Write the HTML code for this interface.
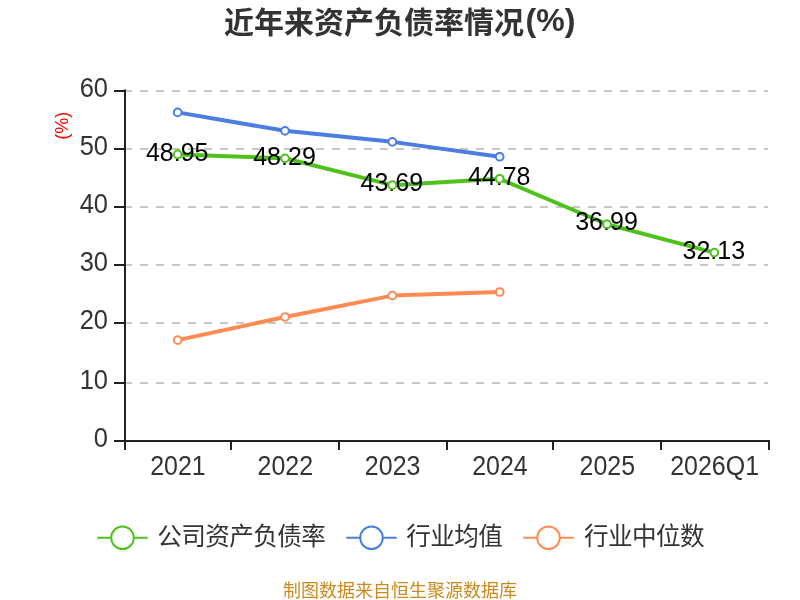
<!DOCTYPE html>
<html lang="zh"><head><meta charset="utf-8"><title>近年来资产负债率情况(%)</title>
<style>
html,body{margin:0;padding:0;background:#fff;}
body{width:800px;height:600px;overflow:hidden;}
svg{display:block;will-change:transform;}
text{font-family:"Liberation Sans","Noto Sans CJK SC",sans-serif;}
</style></head><body>
<svg width="800" height="600" viewBox="0 0 800 600">
<rect width="800" height="600" fill="#fff"/>
<text x="224" y="33" font-size="30" font-weight="bold" fill="#333">近年来资产负债率情况<tspan font-size="32" dx="1.6" dy="-1.8">(%)</tspan></text>
<line x1="124" y1="91" x2="768" y2="91" stroke="#c8c8c8" stroke-width="2" stroke-dasharray="8 8"/>
<line x1="124" y1="149" x2="768" y2="149" stroke="#c8c8c8" stroke-width="2" stroke-dasharray="8 8"/>
<line x1="124" y1="207" x2="768" y2="207" stroke="#c8c8c8" stroke-width="2" stroke-dasharray="8 8"/>
<line x1="124" y1="265" x2="768" y2="265" stroke="#c8c8c8" stroke-width="2" stroke-dasharray="8 8"/>
<line x1="124" y1="323" x2="768" y2="323" stroke="#c8c8c8" stroke-width="2" stroke-dasharray="8 8"/>
<line x1="124" y1="383" x2="768" y2="383" stroke="#c8c8c8" stroke-width="2" stroke-dasharray="8 8"/>
<line x1="125" y1="89.5" x2="125" y2="442" stroke="#212121" stroke-width="2"/>
<line x1="124" y1="441" x2="770" y2="441" stroke="#212121" stroke-width="2"/>
<line x1="114" y1="91" x2="125" y2="91" stroke="#212121" stroke-width="2"/>
<text transform="translate(108,97.0) scale(1,1.1)" text-anchor="end" font-size="25.5" fill="#333">60</text>
<line x1="114" y1="149" x2="125" y2="149" stroke="#212121" stroke-width="2"/>
<text transform="translate(108,155.0) scale(1,1.1)" text-anchor="end" font-size="25.5" fill="#333">50</text>
<line x1="114" y1="207" x2="125" y2="207" stroke="#212121" stroke-width="2"/>
<text transform="translate(108,213.0) scale(1,1.1)" text-anchor="end" font-size="25.5" fill="#333">40</text>
<line x1="114" y1="265" x2="125" y2="265" stroke="#212121" stroke-width="2"/>
<text transform="translate(108,271.0) scale(1,1.1)" text-anchor="end" font-size="25.5" fill="#333">30</text>
<line x1="114" y1="323" x2="125" y2="323" stroke="#212121" stroke-width="2"/>
<text transform="translate(108,329.0) scale(1,1.1)" text-anchor="end" font-size="25.5" fill="#333">20</text>
<line x1="114" y1="383" x2="125" y2="383" stroke="#212121" stroke-width="2"/>
<text transform="translate(108,389.0) scale(1,1.1)" text-anchor="end" font-size="25.5" fill="#333">10</text>
<line x1="114" y1="441" x2="125" y2="441" stroke="#212121" stroke-width="2"/>
<text transform="translate(108,447.0) scale(1,1.1)" text-anchor="end" font-size="25.5" fill="#333">0</text>
<line x1="125" y1="441" x2="125" y2="450" stroke="#212121" stroke-width="2"/>
<line x1="231" y1="441" x2="231" y2="450" stroke="#212121" stroke-width="2"/>
<line x1="339" y1="441" x2="339" y2="450" stroke="#212121" stroke-width="2"/>
<line x1="447" y1="441" x2="447" y2="450" stroke="#212121" stroke-width="2"/>
<line x1="553" y1="441" x2="553" y2="450" stroke="#212121" stroke-width="2"/>
<line x1="661" y1="441" x2="661" y2="450" stroke="#212121" stroke-width="2"/>
<line x1="769" y1="441" x2="769" y2="450" stroke="#212121" stroke-width="2"/>
<text transform="translate(177.97,474.6) scale(1,1.12)" text-anchor="middle" font-size="25" fill="#333">2021</text>
<text transform="translate(285.30,474.6) scale(1,1.12)" text-anchor="middle" font-size="25" fill="#333">2022</text>
<text transform="translate(392.63,474.6) scale(1,1.12)" text-anchor="middle" font-size="25" fill="#333">2023</text>
<text transform="translate(499.97,474.6) scale(1,1.12)" text-anchor="middle" font-size="25" fill="#333">2024</text>
<text transform="translate(607.30,474.6) scale(1,1.12)" text-anchor="middle" font-size="25" fill="#333">2025</text>
<text transform="translate(714.63,474.6) scale(1,1.12)" text-anchor="middle" font-size="25" fill="#333">2026Q1</text>
<text transform="translate(68.2,125.7) rotate(-90)" text-anchor="middle" font-size="18" fill="#f00">(%)</text>
<polyline points="177.67,154.46 285.00,158.31 392.33,185.14 499.67,178.78 607.00,224.22 714.33,252.57" fill="none" stroke="#4ec21a" stroke-width="4" stroke-linejoin="bevel"/>
<polyline points="177.67,112.40 285.00,130.83 392.33,141.86 499.67,156.73" fill="none" stroke="#4b7ee0" stroke-width="4" stroke-linejoin="bevel"/>
<polyline points="177.67,340.13 285.00,316.98 392.33,295.62 499.67,292.01" fill="none" stroke="#ff8b52" stroke-width="4" stroke-linejoin="bevel"/>
<text x="177.17" y="160.66" text-anchor="middle" font-size="25" fill="#000">48.95</text>
<text x="284.50" y="164.51" text-anchor="middle" font-size="25" fill="#000">48.29</text>
<text x="391.83" y="191.34" text-anchor="middle" font-size="25" fill="#000">43.69</text>
<text x="499.17" y="184.98" text-anchor="middle" font-size="25" fill="#000">44.78</text>
<text x="606.50" y="230.42" text-anchor="middle" font-size="25" fill="#000">36.99</text>
<text x="713.83" y="258.77" text-anchor="middle" font-size="25" fill="#000">32.13</text>
<circle cx="177.67" cy="154.46" r="3.85" fill="#fff" stroke="#4ec21a" stroke-width="2"/>
<circle cx="285.00" cy="158.31" r="3.85" fill="#fff" stroke="#4ec21a" stroke-width="2"/>
<circle cx="392.33" cy="185.14" r="3.85" fill="#fff" stroke="#4ec21a" stroke-width="2"/>
<circle cx="499.67" cy="178.78" r="3.85" fill="#fff" stroke="#4ec21a" stroke-width="2"/>
<circle cx="607.00" cy="224.22" r="3.85" fill="#fff" stroke="#4ec21a" stroke-width="2"/>
<circle cx="714.33" cy="252.57" r="3.85" fill="#fff" stroke="#4ec21a" stroke-width="2"/>
<circle cx="177.67" cy="112.40" r="3.85" fill="#fff" stroke="#4b7ee0" stroke-width="2"/>
<circle cx="285.00" cy="130.83" r="3.85" fill="#fff" stroke="#4b7ee0" stroke-width="2"/>
<circle cx="392.33" cy="141.86" r="3.85" fill="#fff" stroke="#4b7ee0" stroke-width="2"/>
<circle cx="499.67" cy="156.73" r="3.85" fill="#fff" stroke="#4b7ee0" stroke-width="2"/>
<circle cx="177.67" cy="340.13" r="3.85" fill="#fff" stroke="#ff8b52" stroke-width="2"/>
<circle cx="285.00" cy="316.98" r="3.85" fill="#fff" stroke="#ff8b52" stroke-width="2"/>
<circle cx="392.33" cy="295.62" r="3.85" fill="#fff" stroke="#ff8b52" stroke-width="2"/>
<circle cx="499.67" cy="292.01" r="3.85" fill="#fff" stroke="#ff8b52" stroke-width="2"/>
<line x1="97.3" y1="537.7" x2="147.7" y2="537.7" stroke="#4ec21a" stroke-width="2"/>
<circle cx="122.5" cy="537.7" r="11.3" fill="#fff" stroke="#4ec21a" stroke-width="2"/>
<text x="157.3" y="545.4" font-size="24.6" letter-spacing="-0.6" fill="#333">公司资产负债率</text>
<line x1="346.3" y1="537.7" x2="396.7" y2="537.7" stroke="#4b7ee0" stroke-width="2"/>
<circle cx="371.5" cy="537.7" r="11.3" fill="#fff" stroke="#4b7ee0" stroke-width="2"/>
<text x="406.3" y="545.4" font-size="24.6" letter-spacing="-0.6" fill="#333">行业均值</text>
<line x1="523.3" y1="537.7" x2="573.6999999999999" y2="537.7" stroke="#ff8b52" stroke-width="2"/>
<circle cx="548.5" cy="537.7" r="11.3" fill="#fff" stroke="#ff8b52" stroke-width="2"/>
<text x="584" y="545.4" font-size="24.6" letter-spacing="-0.6" fill="#333">行业中位数</text>
<text x="400" y="596.5" text-anchor="middle" font-size="18" fill="#c98a1e">制图数据来自恒生聚源数据库</text>
</svg></body></html>
